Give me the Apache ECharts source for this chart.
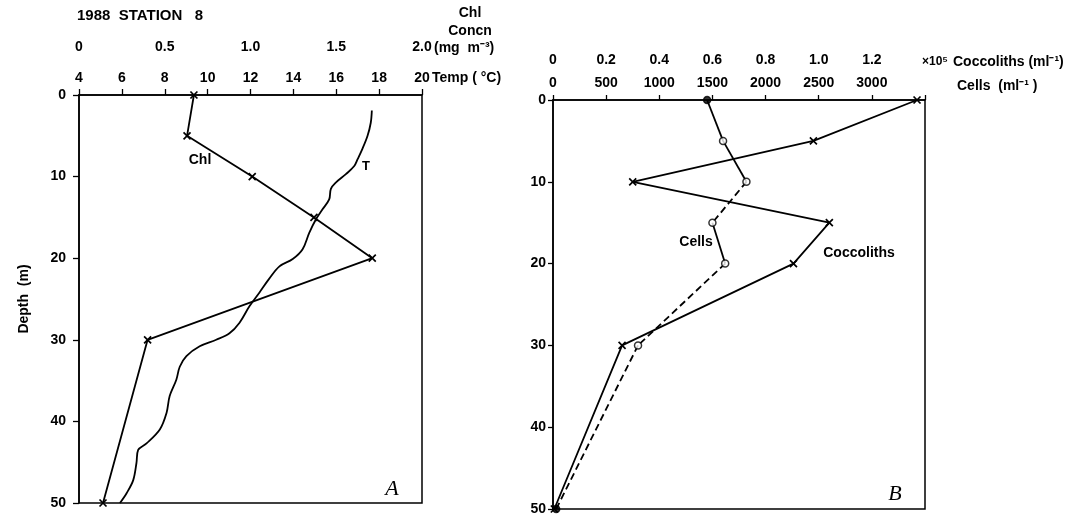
<!DOCTYPE html>
<html>
<head>
<meta charset="utf-8">
<script src="https://cdn.jsdelivr.net/npm/echarts@6/dist/echarts.min.js"></script>
<style>
html,body{margin:0;padding:0;background:#fff;}
#c{width:1078px;height:516px;}
</style>
</head>
<body>
<div id="c"></div>
<script>
// ---- Panel A data ----
const chlDepth = [0, 5, 10, 15, 20, 30, 50];
const chlConc = [0.67, 0.63, 1.01, 1.37, 1.71, 0.40, 0.14];
const tempDepth = [1.9,3.4,5.0,6.6,7.9,8.7,9.7,10.7,11.5,12.8,14.0,15.2,16.9,18.9,20.1,21.0,22.6,24.2,25.9,27.9,29.2,30.0,30.8,32.0,33.3,34.9,36.9,39.0,41.0,42.7,43.5,45.1,47.2,48.8,50.0];
const tempVal = [17.66,17.61,17.46,17.22,16.99,16.84,16.45,15.99,15.75,15.67,15.36,15.06,14.74,14.43,13.97,13.35,12.85,12.42,11.95,11.49,11.02,10.40,9.63,9.01,8.70,8.54,8.23,8.08,7.77,7.15,6.76,6.68,6.53,6.22,5.91];
// ---- Panel B data ----
const sampleDepth = [0, 5, 10, 15, 20, 30, 50];
const cells = [1450, 1600, 1820, 1500, 1620, 800, 30];
const coccoliths = [1.37, 0.98, 0.30, 1.04, 0.905, 0.26, 0.005]; // x 10^5 per ml
const cellsFilled = [true, false, false, false, false, false, true];
// line style of each cells segment (between consecutive samples)
const cellsSegStyle = ['solid', 'solid', 'dashed', 'solid', 'dashed', 'dashed'];

const FONT = '"Liberation Sans", Arial, Helvetica, sans-serif';
const lbl = {color:'#000', fontFamily: FONT, fontWeight:'bold', fontSize:14};
const XPATH = 'path://M0 0L10 10M10 0L0 10';

const chart = echarts.init(document.getElementById('c'), null, {renderer:'canvas'});

function zip(xs, ys){ return xs.map((x,i)=>[x, ys[i]]); }

const series = [];
// Chl
series.push({
  type:'line', xAxisIndex:1, yAxisIndex:0,
  data: zip(chlConc, chlDepth),
  symbol: XPATH, symbolSize: 7,
  itemStyle:{color:'#000', borderColor:'#000', borderWidth:1.7},
  lineStyle:{color:'#000', width:1.8}
});
// Temperature
series.push({
  type:'line', xAxisIndex:0, yAxisIndex:0,
  data: zip(tempVal, tempDepth),
  showSymbol:false, symbol:'none', smooth:0.35,
  lineStyle:{color:'#000', width:1.8}
});
// Cells segments
for (let i = 0; i < cells.length - 1; i++) {
  series.push({
    type:'line', xAxisIndex:2, yAxisIndex:1,
    data: [[cells[i], sampleDepth[i]], [cells[i+1], sampleDepth[i+1]]],
    symbol:'none',
    lineStyle:{color:'#000', width:1.8, type: cellsSegStyle[i] === 'dashed' ? [7,4] : 'solid'}
  });
}
// Coccoliths
series.push({
  type:'line', xAxisIndex:3, yAxisIndex:1,
  data: zip(coccoliths, sampleDepth),
  symbol: XPATH, symbolSize: 7,
  itemStyle:{color:'#000', borderColor:'#000', borderWidth:1.7},
  lineStyle:{color:'#000', width:1.8}
});
// Cells markers
series.push({
  type:'scatter', xAxisIndex:2, yAxisIndex:1, z:5,
  symbol:'circle', symbolSize:7,
  data: cells.map((c,i)=>({value:[c, sampleDepth[i]],
    itemStyle:{color: cellsFilled[i] ? '#000' : '#fff', borderColor:'#000', borderWidth:1.5}}))
});

function fmtDec(v, max){
  if (Math.abs(v) < 1e-9) return '0';
  if (max !== undefined && Math.abs(v - max) < 1e-9) return '';
  return v.toFixed(1);
}

const option = {
  animation:false,
  backgroundColor:'#fff',
  grid:[
    {left:79, top:95, width:343, height:408, show:true, borderColor:'#000', borderWidth:1.5, backgroundColor:'transparent'},
    {left:553, top:100, width:372, height:413, show:true, borderColor:'#000', borderWidth:1.5, backgroundColor:'transparent'}
  ],
  xAxis:[
    {gridIndex:0, type:'value', position:'top', min:4, max:20, interval:2,
     axisLine:{show:true, lineStyle:{color:'#000', width:1.5}},
     axisTick:{show:true, length:6, lineStyle:{color:'#000', width:1.3}},
     axisLabel:Object.assign({margin:10}, lbl),
     splitLine:{show:false}},
    {gridIndex:0, type:'value', position:'top', offset:31, min:0, max:2, interval:0.5,
     axisLine:{show:false}, axisTick:{show:false},
     axisLabel:Object.assign({margin:10, formatter:(v)=>fmtDec(v)}, lbl),
     splitLine:{show:false}},
    {gridIndex:1, type:'value', position:'top', min:0, max:3500, interval:500,
     axisLine:{show:true, lineStyle:{color:'#000', width:1.5}},
     axisTick:{show:true, length:5, lineStyle:{color:'#000', width:1.3}},
     axisLabel:Object.assign({margin:10, formatter:(v)=> v===3500 ? '' : String(v)}, lbl),
     splitLine:{show:false}},
    {gridIndex:1, type:'value', position:'top', offset:23, min:0, max:1.4, interval:0.2,
     axisLine:{show:false}, axisTick:{show:false},
     axisLabel:Object.assign({margin:10, formatter:(v)=>fmtDec(v, 1.4)}, lbl),
     splitLine:{show:false}}
  ],
  yAxis:[
    {gridIndex:0, type:'value', inverse:true, min:0, max:50, interval:10,
     axisLine:{show:true, lineStyle:{color:'#000', width:1.5}},
     axisTick:{show:true, length:6, lineStyle:{color:'#000', width:1.3}},
     axisLabel:Object.assign({margin:13}, lbl),
     splitLine:{show:false}},
    {gridIndex:1, type:'value', inverse:true, min:0, max:50, interval:10,
     axisLine:{show:true, lineStyle:{color:'#000', width:1.5}},
     axisTick:{show:true, length:5, lineStyle:{color:'#000', width:1.3}},
     axisLabel:Object.assign({margin:7}, lbl),
     splitLine:{show:false}}
  ],
  series: series,
  graphic:[
    {type:'text', left:77, top:8, style:{text:'1988  STATION   8', fill:'#000', font:'bold 15px ' + FONT}},
    {type:'text', x:470, y:13, style:{text:'Chl', fill:'#000', font:'bold 14px ' + FONT, align:'center', verticalAlign:'middle'}},
    {type:'text', x:470, y:31, style:{text:'Concn', fill:'#000', font:'bold 14px ' + FONT, align:'center', verticalAlign:'middle'}},
    {type:'text', x:434, y:48, style:{text:'(mg  m\u207B\u00B3)', fill:'#000', font:'bold 14px ' + FONT, align:'left', verticalAlign:'middle'}},
    {type:'text', x:432, y:78, style:{text:'Temp ( \u00B0C)', fill:'#000', font:'bold 14px ' + FONT, align:'left', verticalAlign:'middle'}},
    {type:'text', x:24, y:299, rotation:Math.PI/2, style:{text:'Depth  (m)', fill:'#000', font:'bold 14px ' + FONT, align:'center', verticalAlign:'middle'}},
    {type:'text', x:200, y:160, style:{text:'Chl', fill:'#000', font:'bold 14px ' + FONT, align:'center', verticalAlign:'middle'}},
    {type:'text', x:366, y:166, style:{text:'T', fill:'#000', font:'bold 13px ' + FONT, align:'center', verticalAlign:'middle'}},
    {type:'text', x:696, y:242, style:{text:'Cells', fill:'#000', font:'bold 14px ' + FONT, align:'center', verticalAlign:'middle'}},
    {type:'text', x:859, y:253, style:{text:'Coccoliths', fill:'#000', font:'bold 14px ' + FONT, align:'center', verticalAlign:'middle'}},
    {type:'text', x:392, y:489, style:{text:'A', fill:'#000', font:'italic 22px "Liberation Serif", "Times New Roman", serif', align:'center', verticalAlign:'middle'}},
    {type:'text', x:895, y:494, style:{text:'B', fill:'#000', font:'italic 22px "Liberation Serif", "Times New Roman", serif', align:'center', verticalAlign:'middle'}},
    {type:'text', x:922, y:62, style:{text:'\u00D710\u2075', fill:'#000', font:'bold 12px ' + FONT, align:'left', verticalAlign:'middle'}},
    {type:'text', x:953, y:62, style:{text:'Coccoliths (ml\u207B\u00B9)', fill:'#000', font:'bold 14px ' + FONT, align:'left', verticalAlign:'middle'}},
    {type:'text', x:957, y:86, style:{text:'Cells  (ml\u207B\u00B9 )', fill:'#000', font:'bold 14px ' + FONT, align:'left', verticalAlign:'middle'}}
  ]
};
chart.setOption(option);
</script>
</body>
</html>
